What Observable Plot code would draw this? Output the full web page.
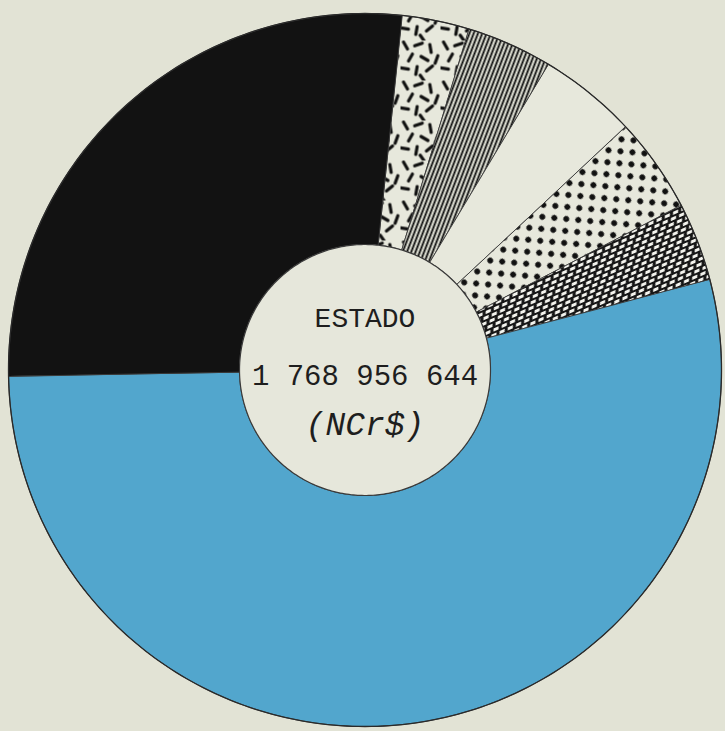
<!DOCTYPE html>
<html>
<head>
<meta charset="utf-8">
<script src="https://cdn.jsdelivr.net/npm/d3@7"></script>
<script src="https://cdn.jsdelivr.net/npm/@observablehq/plot@0.6"></script>
<style>
  html, body { margin: 0; padding: 0; background: #e2e3d5; overflow: hidden; }
  #chart svg { display: block; }
</style>
</head>
<body>
<div id="chart"></div>
<script>
// ---- data ----
// slices in clockwise order, starting just right of 12 o'clock
const categories = ["Tracejado", "Hachurado vertical", "Branco", "Pontilhado", "Quadriculado", "Azul", "Preto"];
const shares = [3.06, 3.89, 4.44, 4.31, 3.56, 53.80, 26.94]; // % of the total
const startAngle = 6; // degrees clockwise from 12 o'clock where the first slice begins
const centerTitle = "ESTADO";
const totalLabel = "1 768 956 644";
const unitLabel = "(NCr$)";

// ---- styles ----
const sliceFills = ["url(#p-dash)", "url(#p-vline)", "#e7e8dc", "url(#p-dot)", "url(#p-cross)", "#52a6cd", "#121212"];
const innerRatio = 0.352;

// Geometry: azimuthal-equidistant projection centred on the north pole,
// angle -> longitude, radius -> colatitude
const outerColat = 90;
const innerColat = outerColat * innerRatio;
const toLon = t => 180 - t;

let acc = startAngle;
const slices = categories.map((c, i) => {
  const a0 = acc, a1 = acc + shares[i] * 3.6;
  acc = a1;
  const n = Math.max(2, Math.ceil(a1 - a0));
  const arc = d3.range(n + 1).map(k => a0 + (a1 - a0) * k / n);
  const ring = [
    ...arc.map(t => [toLon(t), 90 - outerColat]),
    ...arc.slice().reverse().map(t => [toLon(t), 90 - innerColat])
  ];
  ring.push(ring[0]);
  return {type: "Feature", properties: {category: c}, geometry: {type: "Polygon", coordinates: [ring]}};
});

const outerCircle = d3.geoCircle().center([0, 90]).radius(outerColat).precision(1)();
const innerCircle = d3.geoCircle().center([0, 90]).radius(innerColat).precision(1)();
const centre = [{lon: 0, lat: 90}];

const plot = Plot.plot({
  width: 725,
  height: 731,
  marginLeft: 8,
  marginRight: 4,
  marginTop: 13,
  marginBottom: 5,
  style: {background: "transparent"},
  projection: {type: "azimuthal-equidistant", rotate: [0, -90], domain: outerCircle},
  color: {type: "ordinal", domain: categories, range: sliceFills},
  marks: [
    Plot.geo(slices, {fill: d => d.properties.category, stroke: "#3a3a3a", strokeWidth: 0.9}),
    Plot.geo(innerCircle, {fill: "#e6e7db", stroke: "#3a3a3a", strokeWidth: 1.2}),
    Plot.geo(outerCircle, {fill: "none", stroke: "#2a2a2a", strokeWidth: 1.3}),
    Plot.text(centre, {x: "lon", y: "lat", text: () => centerTitle, dy: -52, fontSize: 28, fontFamily: "Liberation Mono", fill: "#1e1e1e", letterSpacing: 0.5}),
    Plot.text(centre, {x: "lon", y: "lat", text: () => totalLabel, dy: 6, fontSize: 29, fontFamily: "Liberation Mono", fill: "#1e1e1e", letterSpacing: -0.5}),
    Plot.text(centre, {x: "lon", y: "lat", text: () => unitLabel, dy: 54, fontSize: 33, fontFamily: "Liberation Mono", fontStyle: "italic", fill: "#1e1e1e", letterSpacing: 3})
  ]
});

// fill patterns for the hatched slices
const dashes = [
  [5,5,60],[18,4,-20],[30,8,80],[10,17,-60],[24,18,30],[4,28,10],[16,30,-80],[29,28,-40],[36,19,-70],[22,38,55]
];
const defs = `
<pattern id="p-dash" patternUnits="userSpaceOnUse" width="40" height="40">
  <rect width="40" height="40" fill="#e7e8dc"/>
  ${dashes.map(([x,y,a]) => `<line x1="${x-4}" y1="${y}" x2="${x+4}" y2="${y}" transform="rotate(${a} ${x} ${y})" stroke="#111" stroke-width="3.2" stroke-linecap="round"/>`).join("")}
</pattern>
<pattern id="p-vline" patternUnits="userSpaceOnUse" width="4" height="10" patternTransform="rotate(21)">
  <rect width="4" height="10" fill="#e7e8dc"/>
  <rect x="0.6" y="0" width="1.9" height="10" fill="#0e0e0e"/>
</pattern>
<pattern id="p-dot" patternUnits="userSpaceOnUse" width="17" height="17" patternTransform="rotate(-40)">
  <rect width="17" height="17" fill="#e7e8dc"/>
  <circle cx="4" cy="4" r="2.9" fill="#111"/>
  <circle cx="12.5" cy="12.5" r="2.9" fill="#111"/>
</pattern>
<pattern id="p-cross" patternUnits="userSpaceOnUse" width="9" height="9.6" patternTransform="rotate(-24)">
  <rect width="9" height="9.6" fill="#161616"/>
  <polygon points="0.6,3.9 6.2,3.9 7.6,1.0 2.0,1.0" fill="#f4f4ee"/>
  <polygon points="5.1,8.7 10.7,8.7 12.1,5.8 6.5,5.8" fill="#f4f4ee"/>
  <polygon points="-3.9,8.7 1.7,8.7 3.1,5.8 -2.5,5.8" fill="#f4f4ee"/>
</pattern>`;
d3.select(plot).insert("defs", ":first-child").html(defs);

document.getElementById("chart").appendChild(plot);
</script>
</body>
</html>
